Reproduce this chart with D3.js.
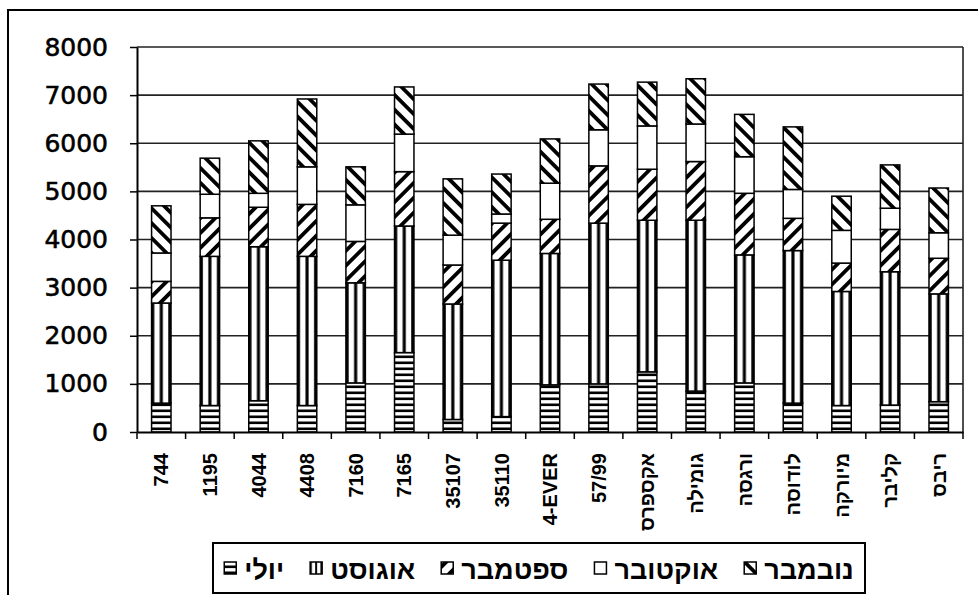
<!DOCTYPE html>
<html>
<head>
<meta charset="utf-8">
<script src="https://cdn.jsdelivr.net/npm/d3@7"></script>
<style>
  body { margin: 0; background: #fff; }
</style>
</head>
<body>
<script>
// values (per model, per month)
const categories = ["744", "1195", "4044", "4408", "7160", "7165", "35107", "35110", "4-EVER", "57/99",
  "אקספרס", "גומילה", "ורגסה", "לודוסה", "מיורקה", "קליבר", "ריבס"];
const july      = [600, 550, 650, 550, 1020, 1650, 260, 320, 980, 1000, 1250, 850, 1020, 600, 550, 560, 630];
const august    = [2080, 3100, 3200, 3100, 2080, 2630, 2400, 3250, 2730, 3340, 3150, 3550, 2660, 3170, 2370, 2770, 2240];
const september = [450, 800, 820, 1080, 860, 1130, 810, 770, 710, 1190, 1060, 1220, 1280, 670, 590, 880, 740];
const october   = [590, 490, 290, 780, 760, 780, 620, 190, 750, 750, 900, 780, 760, 600, 680, 440, 530];
const november  = [980, 750, 1090, 1410, 790, 980, 1170, 830, 920, 950, 910, 940, 880, 1300, 710, 900, 930];
const seriesNames = ["יולי", "אוגוסט", "ספטמבר", "אוקטובר", "נובמבר"];
const yTicks = [0, 1000, 2000, 3000, 4000, 5000, 6000, 7000, 8000];

const W = 978, H = 595;
const plot = { left: 137, right: 963, top: 47, bottom: 432 };
const fills = ["url(#p-h)", "url(#p-v)", "url(#p-fwd)", "#fff", "url(#p-back)"];

const svg = d3.select("body").append("svg")
  .attr("width", W)
  .attr("height", H);

// hatch patterns
const defs = svg.append("defs");
const ph = defs.append("pattern").attr("id", "p-h")
  .attr("patternUnits", "userSpaceOnUse")
  .attr("width", 8).attr("height", 6).attr("y", plot.bottom);
ph.append("rect").attr("width", 8).attr("height", 6).attr("fill", "#fff");
ph.append("rect").attr("width", 8).attr("height", 2.6).attr("y", 1.5).attr("fill", "#000");

const pv = defs.append("pattern").attr("id", "p-v")
  .attr("patternUnits", "objectBoundingBox")
  .attr("patternContentUnits", "objectBoundingBox")
  .attr("width", 1).attr("height", 1);
pv.append("rect").attr("width", 1).attr("height", 1).attr("fill", "#fff");
[[0, 0.14], [0.42, 0.16], [0.86, 0.14]].forEach(r => {
  pv.append("rect").attr("x", r[0]).attr("width", r[1]).attr("height", 1).attr("fill", "#000");
});

function diag(id, angle) {
  const p = defs.append("pattern").attr("id", id)
    .attr("patternUnits", "userSpaceOnUse")
    .attr("width", 10.5).attr("height", 10.5)
    .attr("patternTransform", "rotate(" + angle + ")");
  p.append("rect").attr("width", 10.5).attr("height", 10.5).attr("fill", "#fff");
  p.append("rect").attr("width", 3.8).attr("height", 10.5).attr("fill", "#000");
}
diag("p-fwd", 45);
diag("p-back", -45);

// outer chart frame (runs off the page on the right / bottom)
svg.append("rect")
  .attr("x", 8).attr("y", 10)
  .attr("width", 1000).attr("height", 700)
  .attr("fill", "none").attr("stroke", "#000").attr("stroke-width", 2);

const x = d3.scaleBand().domain(categories).range([plot.left, plot.right]).padding(0);
const y = d3.scaleLinear().domain([0, 8000]).range([plot.bottom, plot.top]);

// gridlines
svg.append("g").selectAll("line")
  .data(yTicks.filter(d => d > 0))
  .join("line")
  .attr("x1", plot.left).attr("x2", plot.right)
  .attr("y1", d => y(d)).attr("y2", d => y(d))
  .attr("stroke", "#222").attr("stroke-width", 1.6);

// right edge of plot area
svg.append("line")
  .attr("x1", plot.right).attr("x2", plot.right)
  .attr("y1", y(8000)).attr("y2", y(0))
  .attr("stroke", "#222").attr("stroke-width", 1.6);

// stacked bars
const keys = ["jul", "aug", "sep", "oct", "nov"];
const rows = categories.map((c, i) => ({
  cat: c, jul: july[i], aug: august[i], sep: september[i], oct: october[i], nov: november[i]
}));
const stacked = d3.stack().keys(keys)(rows);
const bw = x.bandwidth() * 0.4;

svg.append("g").selectAll("g")
  .data(stacked)
  .join("g")
  .attr("fill", (d, i) => fills[i])
  .selectAll("rect")
  .data(d => d)
  .join("rect")
  .attr("x", d => x(d.data.cat) + (x.bandwidth() - bw) / 2)
  .attr("width", bw)
  .attr("y", d => y(d[1]))
  .attr("height", d => y(d[0]) - y(d[1]))
  .attr("stroke", "#000")
  .attr("stroke-width", 1.5);

// y axis
const yAxis = svg.append("g")
  .attr("transform", "translate(" + plot.left + ",0)")
  .call(d3.axisLeft(y).tickValues(yTicks).tickFormat(d3.format("d"))
    .tickSize(7).tickSizeOuter(0).tickPadding(22));
yAxis.select(".domain").attr("stroke-width", 2);
yAxis.selectAll(".tick line").attr("stroke-width", 1.5);
yAxis.selectAll("text")
  .attr("font-family", "DejaVu Sans, sans-serif")
  .attr("font-size", 25)
  .attr("fill", "#000")
  .attr("stroke", "#000")
  .attr("stroke-width", 0.6);

// x axis
const xAxis = svg.append("g")
  .attr("transform", "translate(0," + plot.bottom + ")")
  .call(d3.axisBottom(x).tickSize(0).tickSizeOuter(0).tickPadding(0));
xAxis.select(".domain").attr("stroke-width", 2);
xAxis.selectAll("text")
  .attr("font-family", "Liberation Sans, Arial, DejaVu Sans, sans-serif")
  .attr("font-weight", "bold")
  .attr("font-size", 20)
  .attr("fill", "#000")
  .attr("text-anchor", "end")
  .attr("transform", "translate(0,21) rotate(-90)")
  .attr("dy", "0.36em");

// tick marks between categories
const bounds = categories.map(c => x(c)).concat([plot.right]);
svg.append("g").selectAll("line")
  .data(bounds)
  .join("line")
  .attr("x1", d => d).attr("x2", d => d)
  .attr("y1", plot.bottom).attr("y2", plot.bottom + 7)
  .attr("stroke", "#000").attr("stroke-width", 1.5);

// legend
const lg = svg.append("g");
lg.append("rect")
  .attr("x", 213).attr("y", 543)
  .attr("width", 652).attr("height", 50)
  .attr("fill", "#fff").attr("stroke", "#000").attr("stroke-width", 2);

const items = lg.append("g");
let cx = 0;
seriesNames.forEach((name, i) => {
  const it = items.append("g").attr("transform", "translate(" + cx + ",0)");
  it.append("rect")
    .attr("x", 0).attr("y", 562)
    .attr("width", 12).attr("height", 12)
    .attr("fill", fills[i]).attr("stroke", "#000").attr("stroke-width", 1.5);
  const t = it.append("text")
    .attr("x", 20).attr("y", 579)
    .attr("font-family", "Liberation Sans, Arial, DejaVu Sans, sans-serif")
    .attr("font-weight", "bold")
    .attr("font-size", 27)
    .attr("fill", "#000")
    .text(name);
  cx += 20 + t.node().getComputedTextLength() + 26;
});
const total = cx - 26;
items.attr("transform", "translate(" + (539 - total / 2) + ",0)");
</script>
</body>
</html>
